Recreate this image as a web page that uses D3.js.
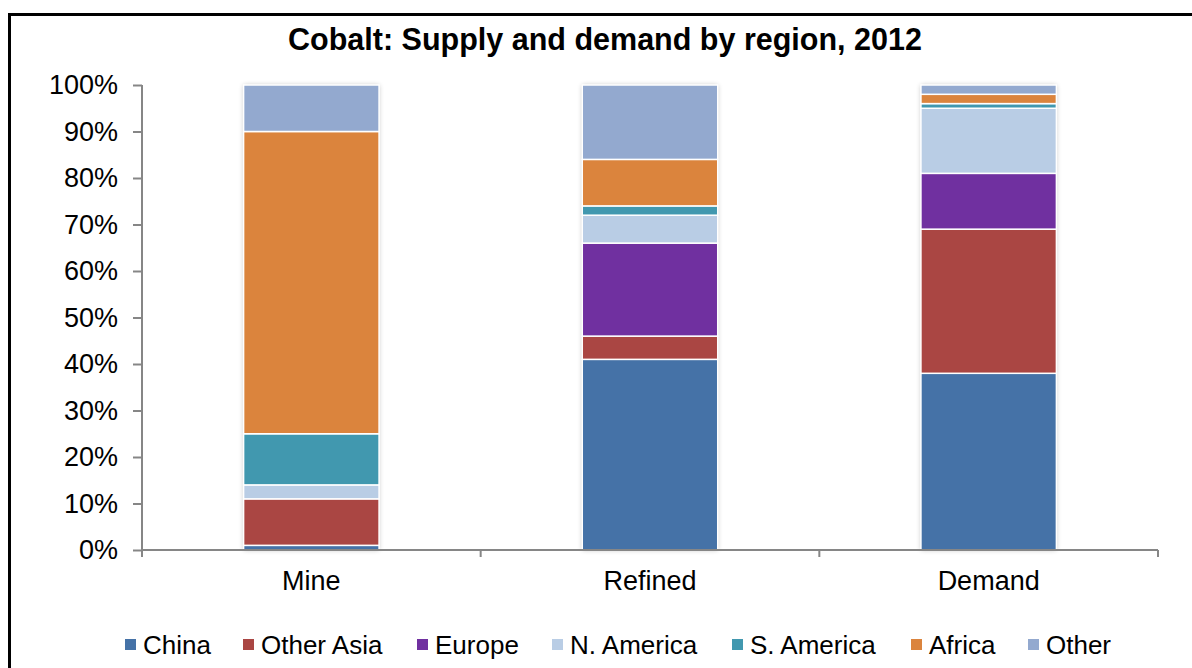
<!DOCTYPE html>
<html>
<head>
<meta charset="utf-8">
<script src="https://cdn.jsdelivr.net/npm/d3@7/dist/d3.min.js"></script>
<style>
  html, body { margin: 0; padding: 0; background: #fff; }
  svg { display: block; font-family: "Liberation Sans", Arial, sans-serif; }
</style>
</head>
<body>
<div id="chart"></div>
<script>
// Cobalt supply / demand share by region, stacked to 100%

const categories = ['Mine', 'Refined', 'Demand'];
const regions = ['China', 'Other Asia', 'Europe', 'N. America', 'S. America', 'Africa', 'Other'];
const regionColors = ['#4572A7', '#AA4643', '#7030A0', '#B9CDE5', '#4198AF', '#DB843D', '#93A9CF'];

// shares (%) per category, in region order
const mineShares    = [1, 10, 0, 3, 11, 65, 10];
const refinedShares = [41, 5, 20, 6, 2, 10, 16];
const demandShares  = [38, 31, 12, 14, 1, 2, 2];

const yTicks = [0, 10, 20, 30, 40, 50, 60, 70, 80, 90, 100];

const width = 1192, height = 668;
const margin = { top: 85, right: 34, bottom: 118, left: 142 };

const svg = d3.select('#chart').append('svg')
    .attr('width', width).attr('height', height);

// outer frame (right/bottom run off the picture)
svg.append('rect')
    .attr('x', 9.5).attr('y', 14.5)
    .attr('width', 1200).attr('height', 700)
    .attr('fill', 'none').attr('stroke', '#000').attr('stroke-width', 3);

svg.append('text')
    .attr('x', 605).attr('y', 50)
    .attr('text-anchor', 'middle')
    .attr('font-size', '30.5px').attr('font-weight', 'bold')
    .text('Cobalt: Supply and demand by region, 2012');

const x = d3.scaleBand()
    .domain(categories)
    .range([margin.left, width - margin.right])
    .paddingInner(0.6).paddingOuter(0.3);

const y = d3.scaleLinear()
    .domain([0, 100])
    .range([height - margin.bottom, margin.top]);

const rows = categories.map((c, i) => {
    const vals = [mineShares, refinedShares, demandShares][i];
    const row = { category: c };
    regions.forEach((r, j) => { row[r] = vals[j]; });
    return row;
});

const series = d3.stack().keys(regions)(rows);

// soft shadow around bars
const defs = svg.append('defs');
const f = defs.append('filter').attr('id', 'shadow')
    .attr('x', '-10%').attr('y', '-10%').attr('width', '120%').attr('height', '120%');
f.append('feGaussianBlur').attr('in', 'SourceAlpha').attr('stdDeviation', 2.5).attr('result', 'b');
f.append('feComponentTransfer').attr('in', 'b').attr('result', 'bb')
    .append('feFuncA').attr('type', 'linear').attr('slope', 0.25);
const fm = f.append('feMerge');
fm.append('feMergeNode').attr('in', 'bb');
fm.append('feMergeNode').attr('in', 'SourceGraphic');

// shadow plate behind each whole bar
svg.append('g').selectAll('rect')
    .data(categories)
    .join('rect')
    .attr('x', d => x(d)).attr('width', x.bandwidth())
    .attr('y', y(100)).attr('height', y(0) - y(100))
    .attr('fill', '#fff').attr('filter', 'url(#shadow)');

svg.append('g').selectAll('g')
    .data(series)
    .join('g')
    .attr('fill', (d, i) => regionColors[i])
    .selectAll('rect')
    .data(d => d.filter(s => s[1] - s[0] > 0))
    .join('rect')
    .attr('x', d => x(d.data.category))
    .attr('width', x.bandwidth())
    .attr('y', d => y(d[1]))
    .attr('height', d => y(d[0]) - y(d[1]))
    .attr('stroke', '#fff').attr('stroke-width', 1.5);

// Y axis
const yAxis = svg.append('g')
    .attr('transform', `translate(${margin.left},0)`)
    .call(d3.axisLeft(y).tickValues(yTicks).tickSize(9).tickPadding(15).tickFormat(d => `${d}%`));
yAxis.select('.domain').attr('stroke', '#868686').attr('stroke-width', 2)
    .attr('d', `M0,${y(100)}V${y(0) + 7}`);
yAxis.selectAll('.tick line').attr('stroke', '#868686').attr('stroke-width', 2);
yAxis.selectAll('text').attr('font-size', '27px').attr('fill', '#000')
    .attr('font-family', '"Liberation Sans", Arial, sans-serif');

// X axis with boundary ticks between categories
const xAxisG = svg.append('g').attr('transform', `translate(0,${y(0)})`);
xAxisG.append('line')
    .attr('x1', margin.left).attr('x2', width - margin.right)
    .attr('stroke', '#868686').attr('stroke-width', 2);
const bounds = categories.slice(1).map(c => x(c) - x.step() * x.paddingInner() / 2)
    .concat([width - margin.right]);
xAxisG.selectAll('.bt')
    .data(bounds)
    .join('line')
    .attr('x1', d => d).attr('x2', d => d)
    .attr('y1', 0).attr('y2', 7)
    .attr('stroke', '#868686').attr('stroke-width', 2);
xAxisG.selectAll('.cl')
    .data(categories)
    .join('text')
    .attr('x', d => x(d) + x.bandwidth() / 2)
    .attr('y', 40)
    .attr('text-anchor', 'middle')
    .attr('font-size', '27px')
    .text(d => d);

// Legend
const legendX = [125, 243, 417, 552, 732, 911, 1028];
const legend = svg.append('g');
regions.forEach((r, i) => {
    const g = legend.append('g').attr('transform', `translate(${legendX[i]},639)`);
    g.append('rect').attr('width', 11).attr('height', 11).attr('fill', regionColors[i]);
    g.append('text').attr('x', 18).attr('y', 15).attr('font-size', '26px').text(r);
});
</script>
</body>
</html>
